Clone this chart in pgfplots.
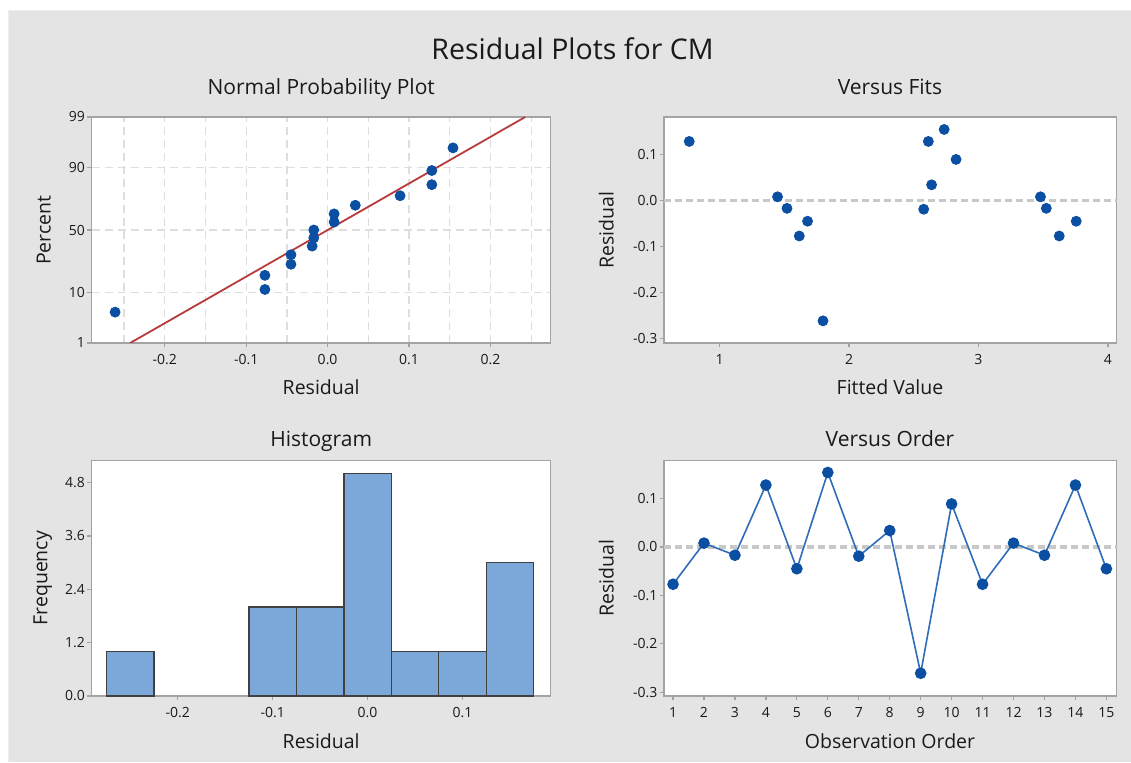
\documentclass[border=0pt]{standalone}
\usepackage{pgfplots}
\pgfplotsset{compat=1.18}
\usepackage{pgfplotstable}
\usepackage{fontspec}
\setmainfont{Open Sans}

\definecolor{panelbg}{HTML}{E4E4E4}
\definecolor{paneledge}{HTML}{EDEDED}
\definecolor{framegray}{HTML}{A3A3A3}
\definecolor{gridgray}{HTML}{DEDEDE}
\definecolor{zerogray}{HTML}{C8C8C8}
\definecolor{dotblue}{HTML}{0B4FA3}
\definecolor{lineblue}{HTML}{2F6DB8}
\definecolor{barblue}{HTML}{7BA7D9}
\definecolor{baredge}{HTML}{404040}
\definecolor{fitred}{HTML}{B83A3A}
\definecolor{txt}{HTML}{1A1A1A}

% residuals in observation order, with their fitted values
\pgfplotstableread{
obs fit   resid
1   1.616 -0.077
2   1.448  0.008
3   1.521 -0.017
4   0.766  0.128
5   1.680 -0.045
6   2.735  0.154
7   2.577 -0.019
8   2.638  0.034
9   1.799 -0.261
10  2.827  0.089
11  3.624 -0.077
12  3.479  0.008
13  3.524 -0.017
14  2.613  0.128
15  3.755 -0.045
}\obstab

% sorted residuals, median-rank percent (i-0.3)/(n+0.4) and its normal score
\pgfplotstableread{
resid  pct    z
-0.261  4.55 -1.6906
-0.077 11.04 -1.2244
-0.077 17.53 -0.9333
-0.045 24.03 -0.7055
-0.045 30.52 -0.5094
-0.019 37.01 -0.3315
-0.017 43.51 -0.1635
-0.017 50.00  0
 0.008 56.49  0.1635
 0.008 62.99  0.3315
 0.034 69.48  0.5094
 0.089 75.97  0.7055
 0.128 82.47  0.9333
 0.128 88.96  1.2244
 0.154 95.45  1.6906
}\normaltab

% histogram bins of width 0.05 (empty bins left out)
\pgfplotstableread{
mid   count
-0.25 1
-0.10 2
-0.05 2
 0.00 5
 0.05 1
 0.10 1
 0.15 3
}\histtab

\pgfplotsset{
  panel/.style={
    scale only axis, anchor=south west,
    axis background/.style={fill=white},
    axis line style={draw=framegray, line width=0.75pt},
    tick style={draw=framegray, line width=0.6pt},
    tick align=outside, tick pos=left,
    major tick length=2.15pt, minor tick length=0pt,
    ticklabel style={font=\fontsize{7}{8}\selectfont, text=txt, inner sep=1pt},
    xticklabel style={yshift=-2.3pt},
  },
  dots/.style={only marks, mark=*, mark size=2.5pt,
    mark options={fill=dotblue, draw=dotblue}},
  zeroline/.style={draw=zerogray, line width=1.6pt, dash pattern=on 3.7pt off 1.8pt},
}

\tikzset{
  ptitle/.style={anchor=base, text=txt, font=\fontsize{10.5}{12}\selectfont},
  alabel/.style={anchor=base, text=txt, font=\fontsize{9.75}{11}\selectfont},
}

\begin{document}
\begin{tikzpicture}
\useasboundingbox (0,0) rectangle (565.5pt,381pt);
\fill[white] (0,0) rectangle (565.5pt,381pt);
\fill[panelbg] (4.15pt,0) rectangle (565.5pt,376pt);
\draw[paneledge, line width=0.5pt] (4.4pt,0) -- (4.4pt,375.75pt) -- (565.5pt,375.75pt);

% Normal probability plot
\begin{axis}[panel, at={(45.75pt,209.5pt)}, width=229.6pt, height=113pt,
  xmin=-0.290, xmax=0.274, ymin=-2.3263, ymax=2.3263,
  xtick={-0.2,-0.1,0,0.1,0.2}, xticklabels={-0.2,-0.1,0.0,0.1,0.2},
  minor xtick={-0.25,-0.15,-0.05,0.05,0.15,0.25},
  ytick={-2.3263,-1.2816,0,1.2816,2.3263}, yticklabels={1,10,50,90,99},
  xmajorgrids, xminorgrids, ymajorgrids,
  major grid style={draw=gridgray, dash pattern=on 4pt off 2.5pt, line width=0.65pt},
  minor grid style={draw=gridgray, dash pattern=on 4pt off 2.5pt, line width=0.65pt}]
\addplot[draw=fitred, line width=0.9pt] coordinates {(-0.2425,-2.3263) (0.2427,2.3263)};
\addplot[dots] table[x=resid, y=z] {\normaltab};
\end{axis}

% Versus fits
\begin{axis}[panel, at={(332pt,209.5pt)}, width=226.3pt, height=113pt,
  xmin=0.571, xmax=4.067, ymin=-0.309, ymax=0.181,
  xtick={1,2,3,4}, xticklabels={1,2,3,4},
  ytick={-0.3,-0.2,-0.1,0,0.1}, yticklabels={-0.3,-0.2,-0.1,0.0,0.1}]
\addplot[zeroline] coordinates {(0.571,0) (4.067,0)};
\addplot[dots] table[x=fit, y=resid] {\obstab};
\end{axis}

% Histogram
\begin{axis}[panel, at={(45.75pt,33pt)}, width=229.6pt, height=117.8pt,
  xmin=-0.291, xmax=0.193, ymin=0, ymax=5.3,
  xtick={-0.2,-0.1,0,0.1}, xticklabels={-0.2,-0.1,0.0,0.1},
  ytick={0,1.2,2.4,3.6,4.8}, yticklabels={0.0,1.2,2.4,3.6,4.8}]
\addplot[ybar, bar width=0.05, bar shift=0pt, fill=barblue, draw=baredge, line width=0.65pt]
  table[x=mid, y=count] {\histtab};
\end{axis}

% Versus order
\begin{axis}[panel, at={(332pt,33pt)}, width=226.3pt, height=117.8pt,
  xmin=0.708, xmax=15.33, ymin=-0.308, ymax=0.179,
  xtick={1,2,3,4,5,6,7,8,9,10,11,12,13,14,15},
  xticklabels={1,2,3,4,5,6,7,8,9,10,11,12,13,14,15},
  ytick={-0.3,-0.2,-0.1,0,0.1}, yticklabels={-0.3,-0.2,-0.1,0.0,0.1}]
\addplot[zeroline] coordinates {(0.708,0) (15.33,0)};
\addplot[draw=lineblue, line width=0.8pt, mark=*, mark size=2.5pt,
  mark options={fill=dotblue, draw=dotblue}] table[x=obs, y=resid] {\obstab};
\end{axis}

% titles and axis labels
\node[anchor=base, text=txt, font=\fontsize{14.25}{16}\selectfont] at (286.25pt,351.35pt) {Residual Plots for CM};
\node[ptitle] at (160.6pt,333.5pt) {Normal Probability Plot};
\node[ptitle] at (445pt,333.5pt) {Versus Fits};
\node[ptitle] at (160.6pt,157.65pt) {Histogram};
\node[ptitle] at (445pt,157.65pt) {Versus Order};
\node[alabel] at (160.6pt,183.5pt) {Residual};
\node[alabel] at (445pt,183.5pt) {Fitted Value};
\node[alabel] at (160.6pt,6.85pt) {Residual};
\node[alabel] at (445pt,6.85pt) {Observation Order};
\node[alabel, rotate=90] at (25.25pt,265.85pt) {Percent};
\node[alabel, rotate=90] at (306.85pt,265.85pt) {Residual};
\node[alabel, rotate=90] at (23.65pt,91.9pt) {Frequency};
\node[alabel, rotate=90] at (306.85pt,91.9pt) {Residual};
\end{tikzpicture}
\end{document}
